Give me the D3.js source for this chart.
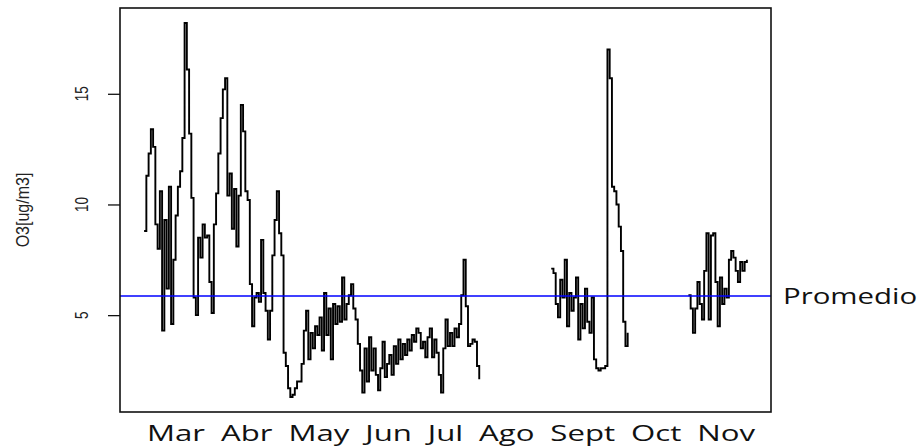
<!DOCTYPE html>
<html>
<head>
<meta charset="utf-8">
<script src="https://cdn.jsdelivr.net/npm/d3@7"></script>
<style>
  body { margin: 0; background: #fff; }
  svg { display: block; }
</style>
</head>
<body>
<script>
//------------------------------------------------------------------------------
// Data
//------------------------------------------------------------------------------

// Daily O3 readings, one value per day from each segment's start date.
var segmentStarts = ["2013-03-01", "2013-08-29", "2013-10-29"];

var marJul = [
  8.8, 11.3, 12.3, 13.4, 12.6, 9.1, 8.0, 10.6, 4.3, 9.3,
  6.2, 10.8, 4.6, 7.5, 9.5, 10.8, 11.5, 13.0, 18.2, 16.1,
  13.2, 10.3, 5.8, 5.0, 8.5, 7.6, 9.1, 8.5, 8.6, 6.5,
  5.1, 9.1, 10.5, 12.3, 13.9, 15.2, 15.7, 10.4, 11.4, 8.9,
  10.7, 8.1, 10.4, 14.5, 13.3, 10.6, 10.2, 6.4, 4.5, 5.8,
  6.0, 5.6, 8.4, 6.0, 5.2, 3.9, 5.2, 7.7, 9.3, 10.6,
  8.7, 7.7, 3.3, 2.7, 1.7, 1.3, 1.4, 1.7, 2.0, 2.0,
  2.8, 4.3, 5.2, 3.0, 4.2, 3.5, 4.5, 4.1, 4.9, 3.4,
  6.0, 4.1, 5.3, 3.0, 5.5, 4.6, 5.4, 4.7, 6.7, 4.8,
  5.5, 5.9, 6.4, 5.3, 4.8, 3.7, 2.5, 1.5, 3.5, 2.0,
  4.0, 2.5, 3.5, 2.3, 1.6, 2.6, 3.8, 2.2, 2.8, 3.2,
  2.3, 3.6, 2.8, 3.9, 3.0, 3.7, 3.2, 3.9, 3.4, 4.1,
  3.8, 4.4, 4.2, 3.5, 3.8, 3.1, 4.0, 4.4, 3.1, 3.9,
  3.3, 2.3, 1.5, 3.5, 4.8, 3.6, 4.2, 3.6, 4.4, 4.0,
  4.6, 5.9, 7.5, 5.4, 3.6, 3.7, 3.9, 3.8, 2.7, 2.1
];

var sepOct = [
  7.1, 6.9, 5.5, 4.9, 6.6, 5.8, 7.5, 4.5, 6.0, 5.2,
  5.8, 6.7, 3.9, 5.5, 4.4, 6.2, 4.7, 4.2, 5.8, 3.0,
  2.6, 2.5, 2.6, 2.6, 2.7, 17.0, 15.7, 10.8, 10.6, 10.0,
  9.0, 7.9, 4.7, 3.6, 4.2
];

var octNov = [
  5.9, 5.3, 4.2, 5.3, 6.5, 5.5, 4.8, 7.0, 8.7, 4.8,
  8.6, 8.7, 6.5, 4.5, 6.7, 5.5, 6.2, 5.8, 7.5, 7.9,
  7.6, 7.0, 6.5, 7.4, 7.0, 7.4, 7.5
];

var promedio = 5.86;

// Month names are written as one row under the plot, evenly gapped.
var monthLabels = ["Mar", "Abr", "May", "Jun", "Jul", "Ago", "Sept", "Oct", "Nov"];

var yTicks = [5, 10, 15];

//------------------------------------------------------------------------------
// Chart
//------------------------------------------------------------------------------

(function() {

var chart = {

width: 923,
height: 447,
box: { left: 120, top: 8, right: 771, bottom: 412 },

// Text in the reference is stretched sideways.
stretch: 1.4,

initialize : function() {
  this.svg = d3.select("body").append("svg")
    .attr("width", this.width)
    .attr("height", this.height);

  this.svg.append("rect")
    .attr("width", this.width)
    .attr("height", this.height)
    .attr("fill", "#fff");

  this.buildSeries();
  this.buildScales();
  this.drawSeries();
  this.drawFrame();
  this.drawLabels();
},

//--------------------------------------
// Data prep
//--------------------------------------

buildSeries : function() {
  var parse = d3.utcParse("%Y-%m-%d");
  var points = [];
  [marJul, sepOct, octNov].forEach(function(values, s) {
    var first = parse(segmentStarts[s]);
    values.forEach(function(v, i) {
      points.push({ date: d3.utcDay.offset(first, i), value: v });
    });
    // gap marker after each segment
    points.push({ date: d3.utcDay.offset(first, values.length), value: null });
  });
  this.points = points;
  this.start = parse(segmentStarts[0]);
  this.end = d3.utcDay.offset(parse(segmentStarts[2]), octNov.length - 1);
},

buildScales : function() {
  var b = this.box;
  var vals = this.points.filter(function(d) { return d.value != null; });
  var ext = d3.extent(vals, function(d) { return d.value; });
  var pad = (ext[1] - ext[0]) * 0.04;

  // R style 4% padding on both axes
  var span = this.end - this.start;
  this.x = d3.scaleUtc()
    .domain([new Date(+this.start - span * 0.04), new Date(+this.end + span * 0.04)])
    .range([b.left, b.right]);

  this.y = d3.scaleLinear()
    .domain([ext[0] - pad, ext[1] + pad])
    .range([b.bottom, b.top]);
},

//--------------------------------------
// Drawing
//--------------------------------------

drawSeries : function() {
  var $this = this;
  var line = d3.line()
    .defined(function(d) { return d.value != null; })
    .x(function(d) { return $this.x(d.date); })
    .y(function(d) { return $this.y(d.value); })
    .curve(d3.curveStepAfter);

  this.svg.append("path")
    .datum(this.points)
    .attr("fill", "none")
    .attr("stroke", "#000")
    .attr("stroke-width", 1.9)
    .attr("d", line);

  this.svg.append("line")
    .attr("x1", this.box.left)
    .attr("x2", this.box.right)
    .attr("y1", this.y(promedio))
    .attr("y2", this.y(promedio))
    .attr("stroke", "#0000ff")
    .attr("stroke-width", 1.5);
},

drawFrame : function() {
  var b = this.box;
  this.svg.append("rect")
    .attr("x", b.left)
    .attr("y", b.top)
    .attr("width", b.right - b.left)
    .attr("height", b.bottom - b.top)
    .attr("fill", "none")
    .attr("stroke", "#111")
    .attr("stroke-width", 1.6);

  var axis = d3.axisLeft(this.y)
    .tickValues(yTicks)
    .tickSize(12)
    .tickFormat("");

  var g = this.svg.append("g")
    .attr("transform", "translate(" + b.left + ",0)")
    .call(axis);
  g.select(".domain").remove();
  g.selectAll(".tick line").attr("stroke", "#111").attr("stroke-width", 1.3);
},

drawLabels : function() {
  var $this = this;
  var s = this.stretch;

  // y tick labels, rotated like R's default
  this.svg.selectAll(".ytick-label")
    .data(yTicks)
    .enter().append("text")
    .attr("class", "ytick-label")
    .attr("transform", function(d) {
      return "translate(88," + $this.y(d) + ") scale(" + s + ",1) rotate(-90)";
    })
    .attr("text-anchor", "middle")
    .attr("font-family", "'Liberation Sans', Arial, sans-serif")
    .attr("font-size", 13.5)
    .attr("fill", "#222")
    .text(function(d) { return d; });

  this.svg.append("text")
    .attr("transform", "translate(29,210) scale(1.2,1) rotate(-90)")
    .attr("text-anchor", "middle")
    .attr("font-family", "'Liberation Sans', Arial, sans-serif")
    .attr("font-size", 16)
    .attr("fill", "#222")
    .text("O3[ug/m3]");

  // month row: measure each word, then spread the gaps so the row spans 147..755
  var rowLeft = 147, rowRight = 755, ms = 1.45;
  var labels = this.svg.selectAll(".month-label")
    .data(monthLabels)
    .enter().append("text")
    .attr("class", "month-label")
    .attr("font-family", "'Open Sans', sans-serif")
    .attr("font-size", 21.5)
    .attr("fill", "#111")
    .text(function(d) { return d; });

  var widths = [];
  labels.each(function() { widths.push(this.getComputedTextLength() * ms); });
  var gap = (rowRight - rowLeft - d3.sum(widths)) / (widths.length - 1);
  var cursor = rowLeft;
  labels.attr("transform", function(d, i) {
    var t = "translate(" + cursor + ",441) scale(" + ms + ",1)";
    cursor += widths[i] + gap;
    return t;
  });

  this.svg.append("text")
    .attr("transform", "translate(783," + (this.y(promedio) + 7.5) + ") scale(" + s + ",1)")
    .attr("font-family", "'Open Sans', sans-serif")
    .attr("font-size", 21)
    .attr("fill", "#111")
    .text("Promedio");
}

};

chart.initialize();

})();
</script>
</body>
</html>
